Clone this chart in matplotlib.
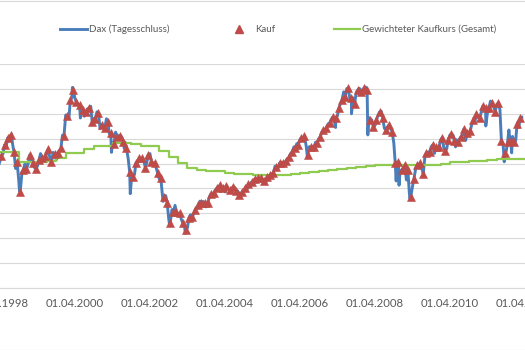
import numpy as np
import pandas as pd
import matplotlib
matplotlib.use("Agg")
import matplotlib.pyplot as plt
import matplotlib.dates as mdates
from matplotlib.lines import Line2D

# DAX closing level on the first trading day of each month, Mar 1998 - Mar 2012
dax_monatsanfang = [
    4700, 5100, 5400, 5700, 5950, 5800, 4800, 4300, 4650, 5000,                # 1998
    5000, 5150, 4850, 4900, 5400, 5200, 5400, 5200, 5450, 5150, 5520, 6140,    # 1999
    6950, 6800, 7650, 7600, 7400, 7100, 6900, 7200, 7300, 6800, 7080, 6400,    # 2000
    6430, 6800, 6200, 5830, 6260, 6120, 6060, 5860, 5190, 4310, 4560, 5040,    # 2001
    5160, 5100, 5040, 5400, 5040, 4820, 4380, 3700, 3710, 2770, 3150, 3320,    # 2002
    2890, 2750, 2550, 2420, 2940, 2980, 3220, 3490, 3480, 3260, 3660, 3750,    # 2003
    3965, 4060, 4020, 3860, 3990, 3920, 4050, 3900, 3790, 3890, 3960, 4130,    # 2004
    4260, 4250, 4350, 4350, 4190, 4460, 4590, 4890, 4830, 5040, 4930, 5190,    # 2005
    5410, 5670, 5800, 5970, 6010, 5690, 5680, 5680, 5860, 6000, 6270, 6310,    # 2006
    6600, 6790, 6720, 6920, 7410, 7880, 8010, 7580, 7640, 7860, 8020, 7870,    # 2007
    8070, 6850, 6750, 6530, 6950, 7100, 6420, 6480, 6420, 5830, 4990, 4670,    # 2008
    4810, 4340, 3840, 4080, 4770, 4940, 4810, 5330, 5460, 5680, 5410, 5630,    # 2009
    5960, 5610, 5600, 6150, 6140, 5960, 5970, 6150, 5930, 6230, 6600, 6690,    # 2010
    6910, 7080, 7270, 7040, 7510, 7290, 7380, 7160, 5780, 5500, 6140, 6090,    # 2011
    5900, 6460, 6860,                                                          # 2012
]

# Monthly purchase (mid-month) at the closing price, Apr 1998 - Feb 2012
kauf_kurs = [
    5300, 5750, 6030, 6150, 5460, 5060, 3860, 4740, 4780,                      # 1998
    5340, 5020, 4780, 5140, 5220, 5300, 5580, 5060, 5380, 5420, 5620, 6100,    # 1999
    6910, 7550, 7950, 7470, 7350, 7150, 7070, 7230, 6670, 6800, 7030, 6550,    # 2000
    6430, 6670, 6230, 5790, 6070, 6110, 5870, 5620, 4660, 4460, 5020, 5220,    # 2001
    5220, 4820, 5340, 5060, 5020, 4620, 4420, 3660, 3420, 2610, 3050, 3050,    # 2002
    3010, 2610, 2330, 2810, 2850, 3130, 3330, 3420, 3420, 3420, 3780, 3820,    # 2003
    4020, 4140, 4020, 4100, 3940, 4060, 3900, 3740, 3860, 4020, 4180, 4260,    # 2004
    4380, 4420, 4420, 4300, 4450, 4540, 4620, 4860, 5020, 5020, 5100, 5260,    # 2005
    5460, 5620, 5750, 6030, 6110, 5340, 5660, 5660, 5830, 6070, 6350, 6430,    # 2006
    6630, 6870, 6830, 7230, 7550, 7670, 8030, 7630, 7390, 7950, 7870, 8030,    # 2007
    7950, 6750, 6470, 6750, 7070, 6830, 6350, 6550, 6270, 5020, 5060, 4740,    # 2008
    4940, 4740, 3660, 4380, 4940, 5020, 4580, 5420, 5460, 5750, 5660, 5660,    # 2009
    6030, 5500, 5950, 6190, 5900, 5870, 6070, 6390, 6230, 6310, 6750, 6990,    # 2010
    6830, 7310, 7230, 7230, 7430, 7070, 7430, 5910, 5420, 5870, 5910, 5870,    # 2011
    6600, 6850,                                                                # 2012
]

# Intramonth highs and lows of the daily close
extrem_datum = [
    "1998-07-20", "1998-10-08", "2000-03-07", "2000-05-23", "2001-03-22",
    "2001-07-25", "2001-09-21", "2002-08-06", "2002-10-09", "2003-03-12",
    "2006-06-13", "2007-03-14", "2007-08-16", "2008-01-22", "2008-10-24",
    "2008-11-21", "2009-03-06", "2010-05-25", "2011-03-16", "2011-09-12",
    "2011-10-27", "2011-11-23",
]
extrem_kurs = [
    6170, 3900, 8060, 6830, 5450,
    5600, 3790, 3480, 2520, 2200,
    5240, 6450, 7000, 6150, 4300,
    4130, 3600, 5670, 6510, 5070,
    6350, 5430,
]

# Weighted average purchase price (total), updated quarterly, Jan 1998 - Apr 2012
gewichtet_kurs = [
    5450, 5450, 5450, 5060,   # 1998
    5060, 5080, 5110, 5220,   # 1999
    5430, 5440, 5585, 5705,   # 2000
    5710, 5810, 5825, 5770,   # 2001
    5720, 5700, 5500, 5260,   # 2002
    5020, 4820, 4740, 4700,   # 2003
    4700, 4640, 4580, 4580,   # 2004
    4540, 4540, 4560, 4560,   # 2005
    4600, 4640, 4670, 4700,   # 2006
    4730, 4770, 4810, 4850,   # 2007
    4890, 4930, 4950, 4960,   # 2008
    4960, 4950, 4950, 4960,   # 2009
    4970, 5050, 5060, 5100,   # 2010
    5110, 5140, 5170, 5170,   # 2011
    5180, 5190,               # 2012
]

legende_texte = ["Dax (Tagesschluss)", "Kauf", "Gewichteter Kaufkurs (Gesamt)"]

monatsanfang_datum = pd.date_range("1998-03-01", periods=len(dax_monatsanfang), freq="MS")
kauf_datum = pd.date_range("1998-04-01", periods=len(kauf_kurs), freq="MS") + pd.Timedelta(days=14)
gewichtet_datum = pd.date_range("1998-01-01", periods=len(gewichtet_kurs), freq="QS")

# Daily-close line assembled from all known closes, in date order
dax = pd.concat([
    pd.Series(dax_monatsanfang, index=monatsanfang_datum),
    pd.Series(kauf_kurs, index=kauf_datum),
    pd.Series(extrem_kurs, index=pd.to_datetime(extrem_datum)),
]).sort_index()

BLAU = "#4A7EBB"
ROT = "#BE4B48"
GRUEN = "#8FCB4F"
GRAU = "#D9D9D9"
TEXT = "#595959"
plt.rcParams["font.family"] = ["Lato", "DejaVu Sans"]

W, H = 525, 350
fig = plt.figure(figsize=(W / 100, H / 100), dpi=100)
y_unten, y_oben = 288, 64
ax = fig.add_axes([0, (H - y_unten) / H, 1, (y_unten - y_oben) / H])

ax.plot(dax.index, dax.values, color=BLAU, lw=2.1, zorder=2, solid_joinstyle="round")
ax.plot(gewichtet_datum, gewichtet_kurs, color=GRUEN, lw=1.6, drawstyle="steps-post", zorder=3)
ax.plot(kauf_datum, kauf_kurs, ls="none", marker="^", ms=6.0, color=ROT,
        mec=ROT, mew=0.4, zorder=4)

# date axis: 01.04.2000 sits 75 px from the left edge, 76.2 px per two years
ref = mdates.date2num(pd.Timestamp("2000-04-01"))
px_pro_tag = 76.2 / (mdates.date2num(pd.Timestamp("2002-04-01")) - ref)
ax.set_xlim(ref - 75 / px_pro_tag, ref + (W - 75) / px_pro_tag)
ax.set_ylim(0, 9000)
ax.set_yticks(np.arange(0, 9001, 1000))
ax.tick_params(axis="y", left=False, labelleft=False)

ticks = pd.date_range("1998-04-01", "2012-04-01", freq="24MS")
ax.set_xticks(ticks)
ax.xaxis.set_major_formatter(mdates.DateFormatter("%d.%m.%Y"))
ax.tick_params(axis="x", length=0, pad=7.2, labelsize=8.2, labelcolor=TEXT)

ax.grid(axis="y", color=GRAU, lw=0.8)
ax.set_axisbelow(True)
for s in ("left", "right", "top"):
    ax.spines[s].set_visible(False)
ax.spines["bottom"].set_color(GRAU)
ax.spines["bottom"].set_linewidth(0.8)

# chart frame
for yy in (1 - 0.5 / H, 0.5 / H):
    fig.add_artist(Line2D([0, 1], [yy, yy], color=GRAU, lw=0.8, transform=fig.transFigure))

# legend row above the plot area
ly = 1 - 29 / H
fig.add_artist(Line2D([60 / W, 87 / W], [ly, ly], color=BLAU, lw=2.1, transform=fig.transFigure))
fig.add_artist(Line2D([239 / W], [ly], ls="none", marker="^", ms=6.0, color=ROT,
                      transform=fig.transFigure))
fig.add_artist(Line2D([334 / W, 360 / W], [ly, ly], color=GRUEN, lw=1.6, transform=fig.transFigure))
for x0, txt in zip((89, 255, 362), legende_texte):
    fig.text(x0 / W, ly, txt, ha="left", va="center", fontsize=7.0, color=TEXT)

fig.savefig("out.png", dpi=100)
